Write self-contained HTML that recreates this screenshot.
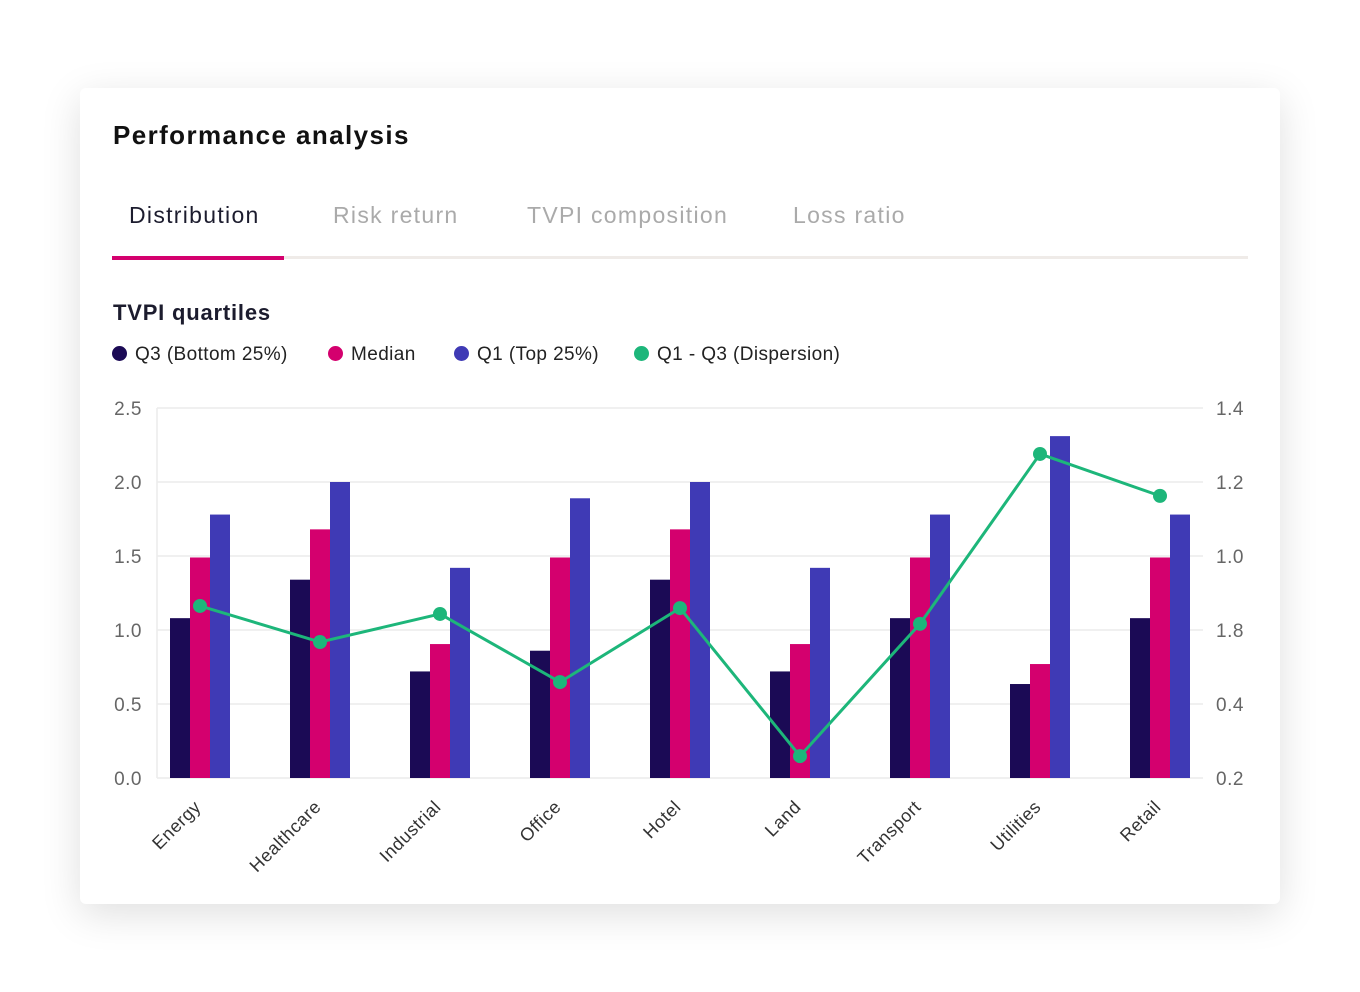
<!DOCTYPE html>
<html><head><meta charset="utf-8"><style>
body{margin:0;width:1360px;height:992px;background:#fff;font-family:"Liberation Sans",sans-serif;position:relative;overflow:hidden}
.card{position:absolute;left:80px;top:88px;width:1200px;height:816px;background:#fff;border-radius:6px;box-shadow:0 10px 40px rgba(0,0,0,0.13)}
.t{position:absolute;white-space:nowrap}
.tab{font-size:23px;letter-spacing:1.3px}
.lg{position:absolute;top:344px;font-size:19px;color:#222;letter-spacing:0.4px;white-space:nowrap}
.dot{display:inline-block;width:15px;height:15px;border-radius:50%;vertical-align:-1px;margin-right:8px}
</style></head><body>
<div class="card"></div>
<div class="t" style="left:113px;top:120px;font-size:26px;font-weight:bold;color:#111;letter-spacing:1.4px">Performance analysis</div>
<div class="t tab" style="left:129px;top:202px;color:#1c1c2e">Distribution</div>
<div class="t tab" style="left:333px;top:202px;color:#aaa">Risk return</div>
<div class="t tab" style="left:527px;top:202px;color:#aaa">TVPI composition</div>
<div class="t tab" style="left:793px;top:202px;color:#aaa">Loss ratio</div>
<div style="position:absolute;left:112px;top:256px;width:1136px;height:3px;background:#efebe8"></div>
<div style="position:absolute;left:112px;top:256px;width:172px;height:4px;background:#d4006e"></div>
<div class="t" style="left:113px;top:300px;font-size:22px;font-weight:bold;color:#1c1c2e;letter-spacing:0.8px">TVPI quartiles</div>
<div class="lg" style="left:112px"><span class="dot" style="background:#1b0a55"></span>Q3 (Bottom 25%)</div>
<div class="lg" style="left:328px"><span class="dot" style="background:#d4006e"></span>Median</div>
<div class="lg" style="left:454px"><span class="dot" style="background:#3f3ab5"></span>Q1 (Top 25%)</div>
<div class="lg" style="left:634px"><span class="dot" style="background:#1db67a"></span>Q1 - Q3 (Dispersion)</div>
<svg id="chart" width="1360" height="992" style="position:absolute;left:0;top:0" font-family="Liberation Sans, sans-serif"></svg>
<script>
const categories=["Energy","Healthcare","Industrial","Office","Hotel","Land","Transport","Utilities","Retail"];
const q3=[1.08,1.34,0.72,0.86,1.34,0.72,1.08,0.635,1.08];
const median=[1.49,1.68,0.905,1.49,1.68,0.905,1.49,0.77,1.49];
const q1=[1.78,2.0,1.42,1.89,2.0,1.42,1.78,2.31,1.78];
const dispersion=[0.758,0.641,0.732,0.511,0.751,0.271,0.70,1.251,1.115];
const leftTicks=["0.0","0.5","1.0","1.5","2.0","2.5"];
const leftTickVals=[0,0.5,1,1.5,2,2.5];
const rightTicks=["0.2","0.4","1.8","1.0","1.2","1.4"];
const svg=document.getElementById('chart');const NS='http://www.w3.org/2000/svg';
const X0=157,X1=1203,Y0=778,Y1=408;
const yL=v=>Y0-(v/2.5)*(Y0-Y1);
const yR=v=>Y0-((v-0.2)/1.2)*(Y0-Y1);
const xC=i=>200+i*120;
function mk(t,a,p){const e=document.createElementNS(NS,t);for(const k in a)e.setAttribute(k,a[k]);(p||svg).appendChild(e);return e;}
leftTickVals.forEach((v,i)=>{
 const g=mk('line',{x1:X0,x2:X1,y1:yL(v),y2:yL(v),stroke:'#ececec','stroke-width':1.5});
 
 
 const t=mk('text',{x:142,y:yL(v)+7,'text-anchor':'end','font-size':19,fill:'#666','letter-spacing':0.5});t.textContent=leftTicks[i];
 
 
 const r=mk('text',{x:1216,y:yL(v)+7,'font-size':19,fill:'#666','letter-spacing':0.5});r.textContent=rightTicks[i];
 
 
});
const ax=mk('line',{x1:X0,x2:X0,y1:Y1,y2:Y0,stroke:'#ececec','stroke-width':1.5});


const series=[[q3,'#1b0a55','bar-q3',-30],[median,'#d4006e','bar-median',-10],[q1,'#3f3ab5','bar-q1',10]];
categories.forEach((c,i)=>{
 series.forEach(s=>{const v=s[0][i];const b=mk('rect',{x:xC(i)+s[3],y:yL(v),width:20,height:Y0-yL(v),fill:s[1]});
  
  });
 const t=mk('text',{x:0,y:0,'text-anchor':'end','font-size':18,fill:'#333','letter-spacing':0.5,transform:`translate(${xC(i)+2},${Y0+30}) rotate(-45)`});t.textContent=c;
 
 
});
const pl=mk('polyline',{points:dispersion.map((v,i)=>xC(i)+','+yR(v)).join(' '),fill:'none',stroke:'#1db67a','stroke-width':3,'stroke-linejoin':'round'});


dispersion.forEach((v,i)=>{const p=mk('circle',{cx:xC(i),cy:yR(v),r:7,fill:'#1db67a'});
 
 });
</script>
</body></html>
